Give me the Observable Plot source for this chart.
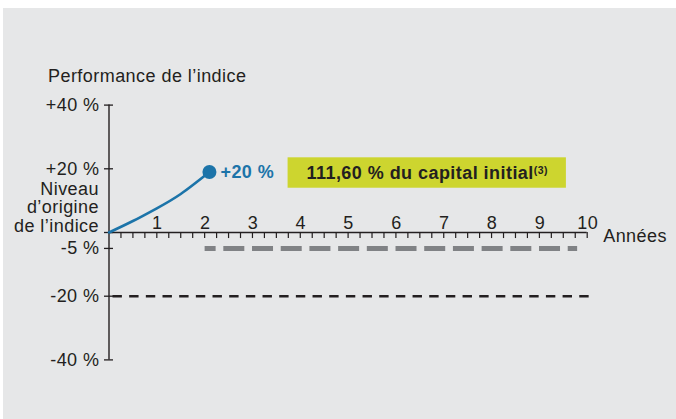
<!DOCTYPE html>
<html><head><meta charset="utf-8">
<script src="https://cdn.jsdelivr.net/npm/d3@7"></script>
<script src="https://cdn.jsdelivr.net/npm/@observablehq/plot@0.6"></script>
<style>
html,body{margin:0;padding:0;background:#fff;width:676px;height:419px;overflow:hidden}
#chart{position:absolute;left:3px;top:8px;}
</style></head><body><div id="chart"></div>
<script>
// ---- data ----
const title = "Performance de l’indice";
const xLabel = "Années";
const originLabel = "Niveau\nd’origine\nde l’indice";
const yearTicks = [1, 2, 3, 4, 5, 6, 7, 8, 9, 10];
const quarterTicks = d3.range(1, 41).map(i => i / 4);
const yTicks = [40, 20, 0, -5, -20, -40];
const yTickLabels = ["+40 %", "+20 %", "", "-5 %", "-20 %", "-40 %"];

const curveYears = [0, 0.5, 1.0, 1.5, 2.1];
const curvePerf = [0, 3.6, 7.6, 12.1, 19.0];

const pointYear = 2.1;
const pointPerf = 19.0;
const pointLabel = "+20 %";

const barrierLevel = -5;
const barrierYears = [2.01, 9.8];
const protectionLevel = -20;
const protectionYears = [0, 10.05];

const boxLabel = "111,60 % du capital initial";
const boxNote = "(3)";
const boxYears = [3.745, 9.565];
const boxPerf = [13.9, 23.45];

// ---- colours ----
const blue = "#1c74a9", green = "#cdd52f", gray = "#808285", ink = "#231f20";

const curve = curveYears.map((x, i) => ({x, y: curvePerf[i]}));
const yt = yTicks.map((y, i) => ({y, label: yTickLabels[i]}));
const box = {x1: boxYears[0], x2: boxYears[1], y1: boxPerf[0], y2: boxPerf[1], label: boxLabel};

const font = "'Liberation Sans', Arial, Helvetica, sans-serif";
const fs = 18;

const chart = Plot.plot({
  width: 673,
  height: 411,
  marginLeft: 105.5,
  marginRight: 89.3,
  marginTop: 96.6,
  marginBottom: 59.6,
  x: {domain: [0, 10], axis: null},
  y: {domain: [-40, 40], axis: null},
  style: {background: "#e6e7e8", fontFamily: font, fontSize: fs + "px", color: ink, letterSpacing: "0.45px", overflow: "visible"},
  marks: [
    Plot.rect([box], {x1: "x1", x2: "x2", y1: "y1", y2: "y2", fill: green}),
    Plot.ruleY([protectionLevel], {x1: protectionYears[0], x2: protectionYears[1], stroke: ink, strokeWidth: 2.6, strokeDasharray: "9.4 7.27", strokeDashoffset: 12.67}),
    Plot.ruleY([barrierLevel], {x1: barrierYears[0], x2: barrierYears[1], stroke: gray, strokeWidth: 5, strokeDasharray: "21 7.7", strokeDashoffset: 10}),
    Plot.ruleY([0], {x1: 0, x2: 10, stroke: ink, strokeWidth: 1.4}),
    Plot.ruleX([0], {y1: -40, y2: 40, stroke: ink, strokeWidth: 1.4}),
    Plot.ruleX(quarterTicks, {x: d => d, y1: 0, y2: -1.9, stroke: ink, strokeWidth: 1.2}),
    Plot.ruleY(yt, {y: "y", x1: -0.094, x2: 0.094, stroke: ink, strokeWidth: 1.3}),
    Plot.text(yt, {x: 0, y: "y", text: "label", dx: -9.5, textAnchor: "end", fontSize: fs}),
    Plot.text(yearTicks, {x: d => d, y: 0, text: d => String(d), dy: -9, dx: 0.5, fontSize: fs}),
    Plot.text([originLabel], {x: 0, y: 0, text: d => d, dx: -10, dy: -0.5, textAnchor: "end", lineAnchor: "bottom", lineHeight: 1.03, fontSize: fs}),
    Plot.text([xLabel], {x: 10, y: 0, text: d => d, dx: 16, dy: 9, textAnchor: "start", lineAnchor: "bottom", fontSize: fs}),
    Plot.text([title], {frameAnchor: "top-left", text: d => d, dx: -61, dy: -22.9, textAnchor: "start", lineAnchor: "bottom", fontSize: fs}),
    Plot.line(curve, {x: "x", y: "y", curve: "natural", stroke: blue, strokeWidth: 2.6}),
    Plot.dot([{x: pointYear, y: pointPerf}], {x: "x", y: "y", r: 7, fill: blue}),
    Plot.text([{x: pointYear, y: pointPerf}], {x: "x", y: "y", text: () => pointLabel, dx: 11, textAnchor: "start", fontWeight: "bold", fill: blue, fontSize: fs}),
    Plot.text([box], {x: d => (d.x1 + d.x2) / 2, y: d => (d.y1 + d.y2) / 2, text: "label", fontWeight: "bold", fontSize: fs, fill: ink})
  ]
});

// superscript note on the box label
chart.querySelectorAll("text").forEach(t => {
  if (t.textContent === boxLabel) {
    const ts = document.createElementNS("http://www.w3.org/2000/svg", "tspan");
    ts.setAttribute("dy", "-5");
    ts.setAttribute("font-size", "10.5");
    ts.textContent = boxNote;
    t.appendChild(ts);
  }
});

document.getElementById("chart").appendChild(chart);
</script></body></html>
